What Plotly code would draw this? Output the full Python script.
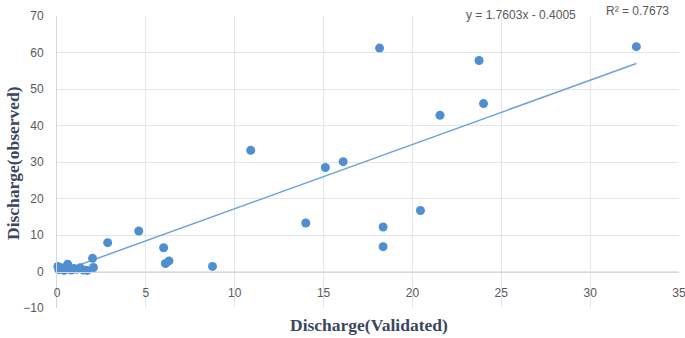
import plotly.graph_objects as go

validated = [0.05, 0.1, 0.25, 0.4, 0.6, 0.65, 0.8, 0.95, 1.1, 1.3, 1.5, 1.7, 2.05, 2.0,
             2.85, 4.6, 6.0, 6.1, 6.3, 8.75, 10.9, 14.0, 15.1, 16.1, 18.15, 18.35,
             18.35, 20.45, 21.55, 23.75, 24.0, 32.6]
observed = [1.4, 0.5, 1.0, 0.3, 2.0, 1.2, 0.4, 0.8, 0.6, 1.0, 0.4, 0.3, 1.1, 3.6,
            7.9, 11.1, 6.5, 2.2, 2.9, 1.4, 33.2, 13.3, 28.5, 30.1, 61.2, 12.2,
            6.8, 16.7, 42.8, 57.8, 46.0, 61.6]
slope = 1.7603
intercept = -0.4005
r_squared = 0.7673

x_ticks = [0, 5, 10, 15, 20, 25, 30, 35]
y_ticks = [-10, 0, 10, 20, 30, 40, 50, 60, 70]

x_min, x_max = min(validated), max(validated)
trend_x = [x_min, x_max]
trend_y = [slope * v + intercept for v in trend_x]

fig = go.Figure()
fig.add_trace(go.Scatter(
    x=trend_x, y=trend_y, mode="lines",
    line=dict(color="#6fa3d8", width=1.5),
    hoverinfo="skip", showlegend=False,
))
fig.add_trace(go.Scatter(
    x=validated, y=observed, mode="markers",
    marker=dict(color="#4f8fd0", size=9, line=dict(width=0)),
    cliponaxis=False, showlegend=False,
))

tick_font = dict(family="Liberation Sans", size=12, color="#595959")
note_font = dict(family="Liberation Sans", size=12, color="#595959")
title_font = dict(family="Liberation Serif", size=17.5, color="#3b4660")

y0 = y_ticks[0]
y1 = y_ticks[-1]
x_axis_pos = (0 - y0) / (y1 - y0)

L, R, T, B = 57, 679, 16, 308
W, H = R - L, B - T


def px(x):
    return (x - L) / W


def py(y):
    return (B - y) / H


fig.update_layout(
    width=685, height=338,
    margin=dict(l=L, r=685 - R, t=T, b=338 - B),
    paper_bgcolor="white", plot_bgcolor="white",
    xaxis=dict(
        range=[x_ticks[0], x_ticks[-1]], tickvals=x_ticks,
        showgrid=True, gridcolor="#e4e6ee", gridwidth=1,
        zeroline=False, showline=True, linecolor="#d9d9d9", linewidth=1,
        anchor="free", position=x_axis_pos, automargin=False,
        ticks="", ticklabelstandoff=10, tickfont=tick_font,
        ticklabeloverflow="allow",
    ),
    yaxis=dict(
        range=[y0, y1], tickvals=y_ticks, automargin=False,
        showgrid=True, gridcolor="#e4e6ee", gridwidth=1,
        zeroline=False, showline=True, linecolor="#d3d7e3", linewidth=1,
        ticks="", ticklabelstandoff=10, tickfont=tick_font,
        ticklabeloverflow="allow",
    ),
    annotations=[
        dict(text=f"y = {slope}x - {abs(intercept)}", xref="paper", yref="paper",
             x=px(521), y=py(15), xanchor="center", yanchor="middle",
             showarrow=False, font=note_font),
        dict(text=f"R² = {r_squared}", xref="paper", yref="paper",
             x=px(637), y=py(11), xanchor="center", yanchor="middle",
             showarrow=False, font=note_font),
        dict(text="<b>Discharge(Validated)</b>", xref="paper", yref="paper",
             x=px(369), y=py(325), xanchor="center", yanchor="middle",
             showarrow=False, font=title_font),
        dict(text="<b>Discharge(observed)</b>", xref="paper", yref="paper",
             x=px(13), y=py(163), xanchor="center", yanchor="middle",
             showarrow=False, textangle=-90, font=title_font),
    ],
)

fig.write_html("out.html", config={"displayModeBar": False},
               post_script="document.body.style.margin='0';")
